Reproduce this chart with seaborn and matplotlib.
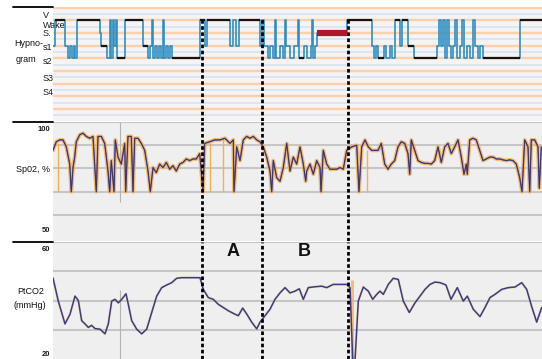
import matplotlib
matplotlib.use("Agg")
import matplotlib.pyplot as plt
from matplotlib.lines import Line2D
from matplotlib.transforms import offset_copy
import pandas as pd
import seaborn as sns

# ---------------- data (time in minutes from start of recording) ----------------
record_end = 489

# sleep stage coding: 0 Wake, 1 REM, 2 S1, 3 S2, 4 S3, 5 S4
hyp_time = [0, 2, 12, 15, 17, 19, 21, 22, 24, 47, 48, 54, 57, 58, 60, 61, 63, 64, 72, 90,
            95, 97, 99, 100, 102, 104, 106, 108, 110, 111, 113, 115, 117, 119, 147, 152, 154, 177, 180, 183,
            186, 207, 209, 211, 215, 217, 220, 222, 223, 227, 230, 232, 233, 237, 241, 245, 246, 251, 254, 258,
            259, 260, 262, 264, 294, 319, 321, 323, 325, 331, 333, 337, 339, 342, 347, 349, 355, 361, 384, 386,
            388, 390, 392, 394, 396, 398, 400, 402, 404, 407, 409, 411, 414, 417, 420, 422, 425, 427, 430, 467]
hyp_stage = [2, 0, 2, 3, 2, 3, 2, 3, 0, 1, 2, 3, 0, 3, 0, 2, 0, 3, 0, 2,
             3, 2, 0, 3, 2, 3, 2, 3, 0, 3, 2, 3, 2, 3, 0, 2, 0, 2, 0, 2,
             0, 2, 0, 2, 3, 2, 3, 0, 3, 2, 3, 0, 2, 3, 2, 0, 3, 2, 3, 2,
             0, 3, 2, 1, 0, 2, 3, 2, 3, 2, 3, 2, 3, 0, 2, 0, 2, 3, 2, 0,
             2, 0, 3, 0, 2, 3, 2, 0, 3, 2, 0, 3, 2, 3, 0, 2, 3, 2, 3, 0]
stage_tick_pos = [-0.45, 0.3, 0.95, 2.1, 3.2, 4.55, 5.6]
stage_tick_text = ["V", "Wake", "S.", "s1", "s2", "S3", "S4"]

spo2_time = [0, 3.3, 6.7, 10, 13.3, 16.7, 18.3, 20, 21.7, 23.3, 26.7, 30, 33.3, 36.7, 40, 43.3, 45, 48.3,
             51.7, 55, 56.7, 58.3, 61, 62.3, 65, 68.3, 71.7, 72.7, 75, 78.3, 80, 81.7, 85, 88.3, 91.7, 95,
             97.3, 100, 103.3, 106.7, 110, 113.3, 116.7, 120, 123.3, 126.7, 130, 133.3, 136.7, 140, 143.3,
             146.7, 150, 151.7, 156.7, 161.7, 167, 172, 177, 180.3, 181, 183.7, 187, 190.3, 193.7, 197,
             200.3, 203.7, 207, 210.3, 213.7, 217, 218.7, 220.3, 223.7, 227, 230.3, 233.7, 237, 240.3,
             243.7, 247, 250.3, 252.7, 253.7, 257, 260.3, 263.7, 267, 268, 270.3, 273.7, 277, 280.3,
             283.7, 287, 290.3, 293.7, 298.7, 303.7, 306, 308.7, 312, 315.3, 318.7, 325, 328.3, 331.7,
             335, 338.3, 341.7, 345, 348.3, 351.7, 355, 356.7, 358.3, 361.7, 365, 368.3, 371.7, 375,
             378.3, 381.7, 385, 388.3, 391.7, 395, 398.3, 401.7, 405, 408.3, 411, 413.3, 414.3, 416.7,
             420, 423.3, 426.7, 430, 433.3, 436.7, 440, 443.3, 446.7, 450, 453.3, 456.7, 460, 463.3,
             466.7, 469, 471.7, 475, 476.7, 478.3, 481.7, 485, 486.3, 488.3]
spo2_value = [87.8, 91.5, 92.3, 92.3, 89.3, 81.9, 70, 80.4, 84.9, 91.5, 94.5, 95.2, 93.8, 93.0, 93.8, 70, 93.8, 93.8,
              90.8, 78.9, 70, 83.4, 70, 92.3, 84.9, 81.9, 90.8, 70, 93.8, 93.8, 70, 93.0, 93.0, 90.8, 87.8, 78.9,
              70, 80.4, 78.2, 81.9, 80.4, 82.6, 79.7, 81.2, 78.9, 81.9, 82.6, 84.1, 83.4, 84.1, 84.1,
              86.4, 70, 90.8, 91.5, 92.3, 92.3, 93.0, 90.8, 92.3, 70, 89.3, 83.4, 92.3, 93.8, 93.0,
              93.8, 92.3, 91.5, 89.3, 84.9, 78.9, 70, 83.4, 76.0, 74.5, 80.4, 90.8, 78.9, 84.9,
              81.9, 89.3, 81.9, 74.5, 78.9, 81.9, 77.5, 83.4, 80.4, 70, 87.8, 81.9, 79.7, 79.7,
              79.7, 80.4, 79.7, 87.8, 89.3, 90.0, 70, 89.3, 92.3, 89.3, 87.8, 87.8, 90.8, 81.9,
              79.7, 81.9, 83.4, 89.3, 91.5, 90.8, 86.4, 77.5, 92.3, 87.8, 83.4, 82.6, 82.2, 82.2,
              81.9, 83.4, 89.3, 82.6, 89.3, 90.8, 86.4, 89.3, 92.3, 84.9, 77.5, 81.9, 77.5, 92.3,
              93.0, 92.3, 87.8, 83.4, 84.1, 84.9, 84.9, 84.1, 84.1, 83.7, 83.4, 83.7, 83.4, 81.9,
              76.0, 70, 92.3, 89.3, 70, 92.3, 92.3, 89.3, 71.5, 89.3]
# short drop-outs seen only on the raw oximeter channel
spo2_artifact_time = [5, 157, 170, 314]
spo2_artifact_low = [70, 70, 70, 70]
spo2_artifact_high = [91, 91, 93, 88]

ptco2_time = [0, 5.3, 12, 17, 22, 25.3, 28.7, 32, 35.3, 38.7, 42, 47, 52, 55.3, 58.7, 62, 65.3, 68.7, 73,
              75.3, 78.7, 83.7, 88.7, 93.7, 98.7, 103.7, 108.7, 113.7, 118.7, 123.7, 128.7, 147, 150.3,
              155.3, 160.3, 165.3, 170.3, 175.3, 180.3, 185.3, 189.7, 193.7, 198.7, 203.7, 207, 212, 217,
              222, 227, 232, 237, 242, 246.3, 250.3, 255.3, 262, 268.7, 273.7, 280.3, 293.7, 297, 299.7,
              302, 305.3, 310.3, 315.3, 319.7, 323.7, 327, 330.3, 335.3, 340.3, 345.3, 350.3, 356.3, 362,
              367, 372, 377, 382, 387, 393, 398, 404.3, 410.3, 414.3, 420.3, 427, 432, 437, 442, 448.7,
              455.3, 462, 468.7, 473.7, 478.7, 483.7, 488.7]
ptco2_value = [47.7, 39.8, 32.0, 35.3, 41.5, 40.0, 33.1, 32.0, 30.8, 31.5, 30.4, 30.2, 28.6, 32.0, 39.8, 40.4,
               39.2, 40.4, 42.3, 38.7, 33.1, 30.2, 28.6, 30.2, 35.9, 41.5, 44.4, 45.3, 46.1, 47.6, 47.8, 47.8,
               43.8, 41.0, 40.4, 38.7, 37.6, 36.5, 35.6, 34.8, 37.4, 35.4, 32.6, 30.3, 32.6, 34.8, 37.0,
               40.4, 42.6, 44.4, 42.6, 43.2, 44.0, 40.4, 44.4, 44.7, 44.9, 44.4, 45.5, 45.5, 44.4, 20.0,
               19.5, 39.8, 44.6, 43.2, 40.4, 42.1, 43.2, 42.1, 45.5, 47.6, 47.2, 39.8, 35.9, 39.2,
               41.5, 43.8, 45.5, 46.3, 46.1, 45.3, 40.4, 44.4, 39.8, 41.5, 37.0, 34.5, 37.6, 41.0, 42.1, 43.8,
               44.4, 44.6, 46.1, 43.8, 37.9, 32.6, 37.6]
ptco2_artifact_time = [299]

event_time = [149, 209, 295]
event_label = ["A", "B"]
event_label_time = [180, 251]
cursor_time = 67

# ---------------- styling ----------------
sns.set_style("white")
plt.rcParams["font.family"] = ["Liberation Sans Narrow", "Liberation Sans", "DejaVu Sans"]

W, H = 542, 359
fig = plt.figure(figsize=(W / 100, H / 100), dpi=100, facecolor="white")


def frame(x0, y0, x1, y1):
    return [x0 / W, 1 - y1 / H, (x1 - x0) / W, (y1 - y0) / H]


ax_h = fig.add_axes(frame(53, 7, 542, 121))
ax_s = fig.add_axes(frame(53, 122, 542, 241))
ax_p = fig.add_axes(frame(53, 242, 542, 359))

dots = (0, (1.3, 0.9))


def scale_label(ax, value, text, dy):
    """Range label just left of the channel, nudged vertically by dy pixels."""
    tr = offset_copy(ax.get_yaxis_transform(), fig=fig, x=-3, y=dy, units="dots")
    ax.text(0, value, text, transform=tr, ha="right", va="center", fontsize=5.5,
            fontweight="bold", color="#1a1a1a", clip_on=False)


# ---------------- hypnogram ----------------
ax_h.set_facecolor("#f5f3f3")
ax_h.set_ylim(7.95, -1.05)
for lvl in range(-1, 8):
    ax_h.axhline(lvl, color="#fcd1aa", lw=1.7, zorder=0)
    ax_h.axhline(lvl + 0.5, color="#d8e4f0", lw=1.2, zorder=0)

hyp = pd.DataFrame({"t": hyp_time + [record_end], "stage": hyp_stage + [hyp_stage[-1]]})
sns.lineplot(data=hyp, x="t", y="stage", drawstyle="steps-post", estimator=None, sort=False,
             color="#2f8fc2", lw=1.2, ax=ax_h)
for t0, t1, s in zip(hyp.t[:-1], hyp.t[1:], hyp.stage[:-1]):
    if s == 1 and t1 - t0 >= 10:
        ax_h.hlines(s, t0, t1, color="#b0162a", lw=4.5, zorder=4)
    elif s != 1 and t1 - t0 >= 5:
        ax_h.hlines(s, t0, t1, color="#141414", lw=1.6, zorder=3)
ax_h.vlines(event_time, 7.95, -0.15, colors="black", linestyles=[dots], lw=2.0, zorder=5)
ax_h.set_yticks(stage_tick_pos)
ax_h.set_yticklabels(stage_tick_text, ha="left", color="#1a1a1a")
ax_h.tick_params(axis="y", length=0, pad=7.2, labelsize=6.5)

# ---------------- SpO2 ----------------
ax_s.set_facecolor("#efefef")
ax_s.set_ylim(48.8, 100)
for v in (60, 70, 80, 90, 100):
    ax_s.axhline(v, color="#c6c6c6", lw=1.5, zorder=0)
ax_s.vlines(cursor_time, 65.5, 100, color="#b3b3b3", lw=0.8, zorder=1)
spo2 = pd.DataFrame({"t": spo2_time, "SpO2": spo2_value})
ax_s.vlines(spo2_artifact_time, spo2_artifact_low, spo2_artifact_high, color="#f6b04e", lw=1.0, zorder=2)
sns.lineplot(data=spo2, x="t", y="SpO2", estimator=None, sort=False, color="#f7b04c", lw=2.8,
             alpha=0.8, ax=ax_s)
sns.lineplot(data=spo2, x="t", y="SpO2", estimator=None, sort=False, color="#5a5ac4", lw=1.0, ax=ax_s)
sns.lineplot(data=spo2, x="t", y="SpO2", estimator=None, sort=False, color="#3a2a34", lw=0.6,
             alpha=0.85, ax=ax_s)
for t in event_time:
    ax_s.axvline(t, color="black", ls=dots, lw=2.0, zorder=5)
ax_s.set_yticks([])
scale_label(ax_s, 100, "100", -7)
scale_label(ax_s, 50, "50", 8)

# ---------------- PtCO2 ----------------
ax_p.set_facecolor("#efefef")
ax_p.set_ylim(20, 60)
for v in (30, 40, 50, 60):
    ax_p.axhline(v, color="#c6c6c6", lw=1.5, zorder=0)
ax_p.vlines(cursor_time, 20, 43.5, color="#b3b3b3", lw=0.8, zorder=1)
ax_p.vlines(ptco2_artifact_time, 20, 47, color="#f3b25c", lw=2.2, alpha=0.8, zorder=1)
ptco2 = pd.DataFrame({"t": ptco2_time, "PtCO2": ptco2_value})
sns.lineplot(data=ptco2, x="t", y="PtCO2", estimator=None, sort=False, color="#f2b25a", lw=1.8,
             alpha=0.35, ax=ax_p)
sns.lineplot(data=ptco2, x="t", y="PtCO2", estimator=None, sort=False, color="#3d3b82", lw=1.1, ax=ax_p)
for t in event_time:
    ax_p.axvline(t, color="black", ls=dots, lw=2.0, zorder=5)
for t, txt in zip(event_label_time, event_label):
    ax_p.text(t, 56.6, txt, ha="center", va="center", fontsize=13, fontweight="bold", color="#111111")
ax_p.set_yticks([])
scale_label(ax_p, 60, "60", -8)
scale_label(ax_p, 20, "20", 5)

for ax in (ax_h, ax_s, ax_p):
    ax.set_xlim(0, record_end)
    ax.set_xticks([])
    ax.set_xlabel("")
    ax.set_ylabel("")
    for sp in ax.spines.values():
        sp.set_visible(False)

# ---------------- channel captions ----------------
for yy in (7, 122, 242):
    fig.add_artist(Line2D([13 / W, 53 / W], [1 - yy / H, 1 - yy / H], color="black", lw=1.3,
                          transform=fig.transFigure))


def caption(x, y, s):
    fig.text(x / W, 1 - y / H, s, ha="left", va="center", fontsize=6.5, color="#111111")


caption(14, 44, "Hypno-")
caption(16, 60, "gram")
caption(16, 169, "Sp02, %")
caption(17, 292, "PtCO2")
caption(14, 306, "(mmHg)")

fig.savefig("out.png", dpi=100, facecolor="white")
